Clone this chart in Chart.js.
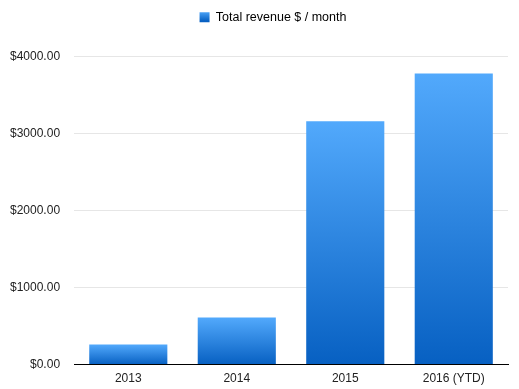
<!DOCTYPE html>
<html lang="en">
<head>
  <meta charset="UTF-8">
  <title>Total revenue</title>
  <style>
    html, body { margin: 0; padding: 0; background: #fff; }
    #wrap { width: 519px; height: 389px; }
  </style>
</head>
<body>
  <div id="wrap"><canvas id="chart-canvas"></canvas></div>

  <script src="https://cdn.jsdelivr.net/npm/chart.js@4.4.8/dist/chart.umd.min.js"></script>
  <script>
    // chart data
    const years = ['2013', '2014', '2015', '2016 (YTD)'];
    const revenue = [260, 610, 3160, 3780];
    const seriesName = 'Total revenue $ / month';
    const yTicks = [0, 1000, 2000, 3000, 4000];

    const topColor = '#52a9fc';
    const bottomColor = '#0760c2';

    const context = document.getElementById('chart-canvas').getContext('2d');

    // each bar gets its own gradient, light on top and dark at the base
    function barGradient(ctx) {
      const chart = ctx.chart;
      const y = chart.scales.y;
      if (!y || ctx.raw === undefined || !isFinite(y.getPixelForValue(0))) return topColor;
      const top = y.getPixelForValue(ctx.raw);
      const base = y.getPixelForValue(0);
      const g = chart.ctx.createLinearGradient(0, top, 0, base);
      g.addColorStop(0, topColor);
      g.addColorStop(1, bottomColor);
      return g;
    }

    // leave more room under the legend and nudge it a little right
    const legendSpacing = {
      id: 'legendSpacing',
      afterInit(ch) {
        const legend = ch.legend;
        const fit = legend.fit;
        legend.fit = function () {
          fit.call(this);
          this.height += 23;
        };
      },
      afterLayout(ch) {
        ch.legend.left += 21;
        ch.legend.right += 21;
      }
    };

    Chart.defaults.font.family = '"Liberation Sans", Arial, sans-serif';
    Chart.defaults.font.size = 12;
    Chart.defaults.color = '#222';

    const chart = new Chart(context, {
      type: 'bar',
      data: {
        labels: years,
        datasets: [{
          label: seriesName,
          data: revenue,
          backgroundColor: barGradient,
          borderWidth: 0
        }]
      },
      options: {
        responsive: true,
        maintainAspectRatio: false,
        animation: false,
        layout: { padding: { left: -4, right: 11, top: 0, bottom: -4 } },
        plugins: {
          tooltip: { enabled: false },
          legend: {
            position: 'top',
            labels: {
              boxWidth: 10,
              boxHeight: 10,
              padding: 11,
              color: '#222',
              font: { size: 12.5 },
              generateLabels(ch) {
                const g = ch.ctx.createLinearGradient(0, 11, 0, 21);
                g.addColorStop(0, topColor);
                g.addColorStop(1, bottomColor);
                return [{
                  text: seriesName,
                  fillStyle: g,
                  strokeStyle: 'rgba(0,0,0,0)',
                  lineWidth: 0,
                  hidden: false,
                  datasetIndex: 0
                }];
              }
            }
          }
        },
        scales: {
          x: {
            grid: { display: false, drawTicks: false },
            border: { display: true, color: '#000', width: 1 },
            ticks: { padding: 7, color: '#222' }
          },
          y: {
            min: 0,
            max: 4000,
            afterBuildTicks(scale) {
              scale.ticks = yTicks.map(v => ({ value: v }));
            },
            grid: {
              drawTicks: false,
              color: ctx => ctx.tick && ctx.tick.value === 0 ? '#000' : '#e6e6e6'
            },
            border: { display: false },
            ticks: {
              padding: 14,
              color: '#222',
              callback: v => '$' + Number(v).toFixed(2)
            }
          }
        }
      },
      plugins: [legendSpacing]
    });
  </script>
</body>
</html>
